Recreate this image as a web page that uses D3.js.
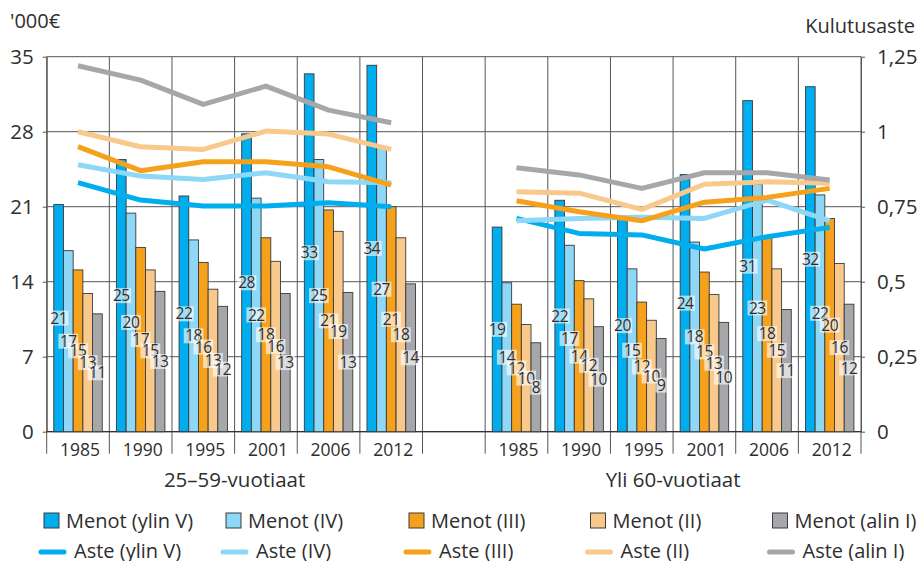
<!DOCTYPE html>
<html>
<head>
<meta charset="utf-8">
<script src="https://cdn.jsdelivr.net/npm/d3@7"></script>
<style>
  body { margin: 0; background: #fff; }
  svg text { font-family: "Open Sans", sans-serif; fill: #2e2e2e; }
</style>
</head>
<body>
<svg></svg>
<script>
const years = ['1985', '1990', '1995', '2001', '2006', '2012'];
const groups = ['25–59-vuotiaat', 'Yli 60-vuotiaat'];
const menotNames = ['Menot (ylin V)', 'Menot (IV)', 'Menot (III)', 'Menot (II)', 'Menot (alin I)'];
const asteNames = ['Aste (ylin V)', 'Aste (IV)', 'Aste (III)', 'Aste (II)', 'Aste (alin I)'];
const colors = ['#00adef', '#8dd7f7', '#f6a11c', '#f8c98b', '#a6a7aa'];
const leftTicks = [0, 7, 14, 21, 28, 35];
const rightTicks = [0, 0.25, 0.5, 0.75, 1, 1.25];

// menot, '000 €, 25-59-vuotiaat
const menotYoungV = [21.2, 25.4, 22.0, 27.8, 33.4, 34.2];
const menotYoungIV = [16.9, 20.4, 17.9, 21.8, 25.4, 26.6];
const menotYoungIII = [15.1, 17.2, 15.8, 18.1, 20.7, 21.0];
const menotYoungII = [12.9, 15.1, 13.3, 15.9, 18.7, 18.1];
const menotYoungI = [11.0, 13.1, 11.7, 12.9, 13.0, 13.8];

// menot, yli 60-vuotiaat
const menotOldV = [19.1, 21.6, 19.8, 24.0, 30.9, 32.2];
const menotOldIV = [13.9, 17.4, 15.2, 17.7, 23.1, 22.1];
const menotOldIII = [11.9, 14.1, 12.1, 14.9, 18.3, 19.9];
const menotOldII = [10.0, 12.4, 10.4, 12.8, 15.2, 15.7];
const menotOldI = [8.3, 9.8, 8.7, 10.2, 11.4, 11.9];

// kulutusaste, 25-59-vuotiaat
const asteYoungV = [0.83, 0.772, 0.752, 0.752, 0.763, 0.75];
const asteYoungIV = [0.89, 0.852, 0.841, 0.863, 0.833, 0.83];
const asteYoungIII = [0.95, 0.87, 0.90, 0.90, 0.883, 0.822];
const asteYoungII = [1.0, 0.95, 0.941, 1.002, 0.992, 0.941];
const asteYoungI = [1.22, 1.172, 1.091, 1.152, 1.072, 1.03];

// kulutusaste, yli 60-vuotiaat
const asteOldV = [0.711, 0.661, 0.656, 0.609, 0.65, 0.681];
const asteOldIV = [0.703, 0.711, 0.715, 0.711, 0.772, 0.703];
const asteOldIII = [0.77, 0.733, 0.703, 0.765, 0.781, 0.811];
const asteOldII = [0.80, 0.795, 0.741, 0.825, 0.833, 0.828];
const asteOldI = [0.88, 0.856, 0.811, 0.863, 0.863, 0.839];

const menot = [
  [menotYoungV, menotYoungIV, menotYoungIII, menotYoungII, menotYoungI],
  [menotOldV, menotOldIV, menotOldIII, menotOldII, menotOldI]
];
const aste = [
  [asteYoungV, asteYoungIV, asteYoungIII, asteYoungII, asteYoungI],
  [asteOldV, asteOldIV, asteOldIII, asteOldII, asteOldI]
];

const width = 921,
      height = 561,
      plotLeft = 46.7,
      plotRight = 861,
      plotTop = 56.7,
      plotBottom = 431.7,
      gridColor = '#555';

const $svg = d3.select('svg')
               .attr('width', width)
               .attr('height', height);

const prefix = ['A', 'B'];
const slots = years.map((y) => 'A' + y).concat(['gap'], years.map((y) => 'B' + y));

const x = d3.scaleBand().domain(slots).range([plotLeft, plotRight]);
const bw = x.bandwidth();
const xInner = d3.scaleBand().domain(d3.range(5)).range([0, bw]).paddingOuter(0.73);
const yL = d3.scaleLinear().domain([0, 35]).range([plotBottom, plotTop]);
const yR = d3.scaleLinear().domain([0, 1.25]).range([plotBottom, plotTop]);

const fiLocale = d3.formatLocale({ decimal: ',', thousands: ' ', grouping: [3], currency: ['', '€'] });
const fmt = fiLocale.format('~g');

// horizontal grid
$svg.append('g')
  .selectAll('line')
  .data(leftTicks)
  .join('line')
    .attr('x1', plotLeft)
    .attr('x2', plotRight)
    .attr('y1', (d) => yL(d))
    .attr('y2', (d) => yL(d))
    .attr('stroke', gridColor)
    .attr('stroke-width', 1);

// vertical grid + ticks below the axis
const bounds = slots.map((s) => x(s)).concat([plotRight]);
$svg.append('g')
  .selectAll('line')
  .data(bounds)
  .join('line')
    .attr('x1', (d) => d)
    .attr('x2', (d) => d)
    .attr('y1', plotTop)
    .attr('y2', plotBottom + 22)
    .attr('stroke', gridColor)
    .attr('stroke-width', 1);

// axes
const leftAxis = $svg.append('g')
  .attr('transform', `translate(${plotLeft},0)`)
  .call(d3.axisLeft(yL).tickValues(leftTicks).tickSize(4).tickSizeOuter(0).tickPadding(9));

const rightAxis = $svg.append('g')
  .attr('transform', `translate(${plotRight},0)`)
  .call(d3.axisRight(yR).tickValues(rightTicks).tickFormat(fmt).tickSize(4).tickSizeOuter(0).tickPadding(12));

[leftAxis, rightAxis].forEach(($a) => {
  $a.select('.domain').attr('stroke', gridColor);
  $a.selectAll('.tick line').attr('stroke', gridColor);
  $a.selectAll('.tick text')
    .attr('font-size', 20.5)
    .attr('font-family', '"Open Sans", sans-serif')
    .attr('fill', '#2e2e2e');
});

$svg.append('line')
  .attr('x1', plotLeft)
  .attr('x2', plotRight)
  .attr('y1', plotBottom)
  .attr('y2', plotBottom)
  .attr('stroke', '#333')
  .attr('stroke-width', 1.2);

// bars
const bars = [];
groups.forEach((g, gi) => {
  menot[gi].forEach((vals, si) => {
    vals.forEach((v, yi) => {
      bars.push({ slot: prefix[gi] + years[yi], s: si, value: v });
    });
  });
});

$svg.append('g')
  .selectAll('rect')
  .data(bars)
  .join('rect')
    .attr('x', (d) => x(d.slot) + xInner(d.s))
    .attr('y', (d) => yL(d.value))
    .attr('width', xInner.bandwidth())
    .attr('height', (d) => plotBottom - yL(d.value))
    .attr('fill', (d) => colors[d.s])
    .attr('stroke', '#3a3a3a')
    .attr('stroke-width', 0.9);

// value labels in the middle of each bar
const labels = $svg.append('g')
  .selectAll('g')
  .data(bars)
  .join('g')
    .attr('transform', (d) => `translate(${x(d.slot) + xInner(d.s) + xInner.bandwidth() / 2},${(yL(d.value) + plotBottom) / 2})`);

labels.append('rect')
  .attr('fill', '#fff')
  .attr('fill-opacity', 0.62);

labels.append('text')
  .attr('text-anchor', 'middle')
  .attr('dy', '0.36em')
  .attr('font-size', 15.5)
  .attr('letter-spacing', -0.5)
  .text((d) => Math.round(d.value));

labels.each(function () {
  const w = d3.select(this).select('text').node().getComputedTextLength();
  d3.select(this).select('rect')
    .attr('x', -w / 2 - 1.5)
    .attr('y', -7.5)
    .attr('width', w + 3)
    .attr('height', 15);
});

// lines
const line = d3.line()
  .x((d) => x(d.slot) + bw / 2)
  .y((d) => yR(d.value));

groups.forEach((g, gi) => {
  aste[gi].forEach((vals, si) => {
    const pts = vals.map((v, yi) => ({ slot: prefix[gi] + years[yi], value: v }));
    $svg.append('path')
      .datum(pts)
      .attr('d', line)
      .attr('fill', 'none')
      .attr('stroke', colors[si])
      .attr('stroke-width', 5)
      .attr('stroke-linejoin', 'round');
  });
});

// year labels + group titles
$svg.append('g')
  .selectAll('text')
  .data(slots.filter((s) => s !== 'gap'))
  .join('text')
    .attr('x', (d) => x(d) + bw / 2 + 2)
    .attr('y', 455.5)
    .attr('text-anchor', 'middle')
    .attr('font-size', 17.5)
    .text((d) => d.slice(1));

groups.forEach((g, gi) => {
  const x0 = x(prefix[gi] + years[0]),
        x1 = x(prefix[gi] + years[years.length - 1]) + bw;
  $svg.append('text')
    .attr('x', (x0 + x1) / 2)
    .attr('y', 487)
    .attr('text-anchor', 'middle')
    .attr('font-size', 20.5)
    .text(g);
});

// units
$svg.append('text')
  .attr('x', 10)
  .attr('y', 28)
  .attr('font-size', 20)
  .text("'000€");

$svg.append('text')
  .attr('x', 915)
  .attr('y', 33)
  .attr('text-anchor', 'end')
  .attr('font-size', 20)
  .text('Kulutusaste');

// legend
const legendX = [44, 226, 409, 590.5, 772.5];

const leg1 = $svg.append('g')
  .selectAll('g')
  .data(menotNames)
  .join('g')
    .attr('transform', (d, i) => `translate(${legendX[i]},513)`);

leg1.append('rect')
  .attr('width', 15)
  .attr('height', 15)
  .attr('fill', (d, i) => colors[i])
  .attr('stroke', '#3a3a3a')
  .attr('stroke-width', 1);

leg1.append('text')
  .attr('x', 22)
  .attr('y', 14.5)
  .attr('font-size', 20)
  .text((d) => d);

const leg2 = $svg.append('g')
  .selectAll('g')
  .data(asteNames)
  .join('g')
    .attr('transform', (d, i) => `translate(${legendX[i]},552)`);

leg2.append('line')
  .attr('x1', -3)
  .attr('x2', 20)
  .attr('stroke', (d, i) => colors[i])
  .attr('stroke-width', 5)
  .attr('stroke-linecap', 'round');

leg2.append('text')
  .attr('x', 30)
  .attr('y', 5.5)
  .attr('font-size', 20)
  .text((d) => d);
</script>
</body>
</html>
